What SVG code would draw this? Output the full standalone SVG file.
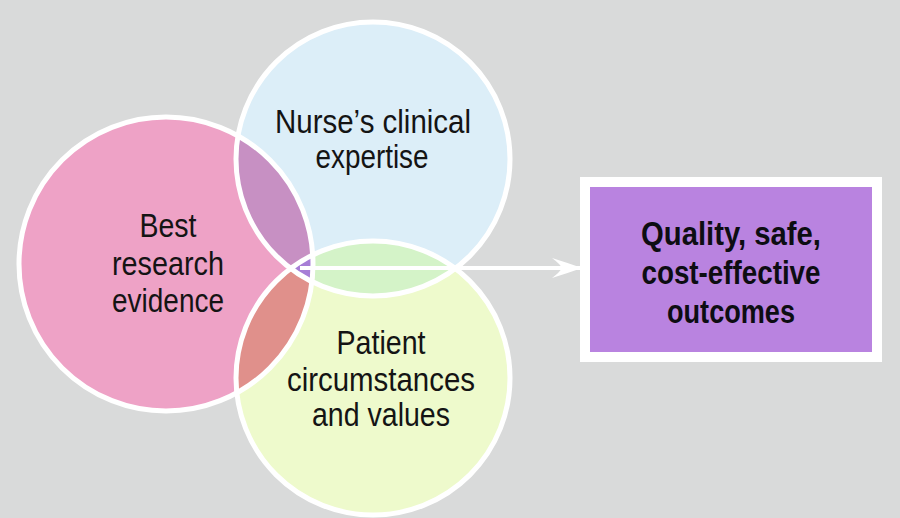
<svg xmlns="http://www.w3.org/2000/svg" width="900" height="518" viewBox="0 0 900 518">
  <style>
    .lbl { font-family: "Liberation Sans", Arial, sans-serif; font-size: 33px; fill: #141414; text-anchor: middle; }
    .bold { font-weight: bold; fill: #0d0d12; }
    .ring { fill: none; stroke: #ffffff; stroke-width: 5; }
  </style>
  <defs>
    <clipPath id="clipPink"><circle cx="166" cy="264" r="147"/></clipPath>
    <clipPath id="clipBlue"><circle cx="373" cy="159" r="137"/></clipPath>
    <clipPath id="clipGreen"><circle cx="373" cy="378" r="137"/></clipPath>
    <marker id="arrow" markerWidth="32" markerHeight="22" refX="30" refY="11" orient="auto" markerUnits="userSpaceOnUse">
      <path d="M30,11 Q16,6 0,1 Q8,7 10,11 Q8,15 0,21 Q16,16 30,11 Z" fill="#ffffff"/>
    </marker>
  </defs>
  <rect x="0" y="0" width="900" height="518" fill="#D9DADA"/>

  <g id="node-evidence">
    <circle cx="166" cy="264" r="147" fill="#EEA2C6"/>
  </g>
  <g id="node-expertise">
    <circle cx="373" cy="159" r="137" fill="#DCEEF8"/>
  </g>
  <g id="node-patient">
    <circle cx="373" cy="378" r="137" fill="#EEFACC"/>
  </g>

  <g id="overlaps">
    <g clip-path="url(#clipPink)">
      <circle cx="373" cy="159" r="137" fill="#C790C3"/>
      <circle cx="373" cy="378" r="137" fill="#E0908B"/>
    </g>
    <g clip-path="url(#clipBlue)">
      <circle cx="373" cy="378" r="137" fill="#D4F3C8"/>
    </g>
    <g clip-path="url(#clipPink)">
      <g clip-path="url(#clipBlue)">
        <circle cx="373" cy="378" r="137" fill="#A77ED6"/>
      </g>
    </g>
  </g>

  <g id="rings">
    <circle class="ring" cx="166" cy="264" r="147"/>
    <circle class="ring" cx="373" cy="159" r="137"/>
    <circle class="ring" cx="373" cy="378" r="137"/>
  </g>

  <g id="connectors">
    <line x1="300" y1="268" x2="582" y2="268" stroke="#ffffff" stroke-width="4" marker-end="url(#arrow)"/>
  </g>

  <g id="node-outcomes">
    <rect x="580" y="177" width="302" height="185" fill="#ffffff"/>
    <rect x="590" y="187" width="282" height="165" fill="#B983E0"/>
    <text class="lbl bold" x="731" y="245" textLength="180" lengthAdjust="spacingAndGlyphs">Quality, safe,</text>
    <text class="lbl bold" x="731" y="284" textLength="179" lengthAdjust="spacingAndGlyphs">cost-effective</text>
    <text class="lbl bold" x="731" y="323" textLength="128" lengthAdjust="spacingAndGlyphs">outcomes</text>
  </g>

  <g id="labels">
    <text class="lbl" x="168" y="237" textLength="57" lengthAdjust="spacingAndGlyphs">Best</text>
    <text class="lbl" x="168" y="275" textLength="112" lengthAdjust="spacingAndGlyphs">research</text>
    <text class="lbl" x="168" y="312" textLength="112" lengthAdjust="spacingAndGlyphs">evidence</text>

    <text class="lbl" x="373" y="133" textLength="196" lengthAdjust="spacingAndGlyphs">Nurse’s clinical</text>
    <text class="lbl" x="372" y="168" textLength="113" lengthAdjust="spacingAndGlyphs">expertise</text>

    <text class="lbl" x="381" y="354" textLength="89" lengthAdjust="spacingAndGlyphs">Patient</text>
    <text class="lbl" x="381" y="391" textLength="188" lengthAdjust="spacingAndGlyphs">circumstances</text>
    <text class="lbl" x="381" y="426" textLength="138" lengthAdjust="spacingAndGlyphs">and values</text>
  </g>
</svg>
